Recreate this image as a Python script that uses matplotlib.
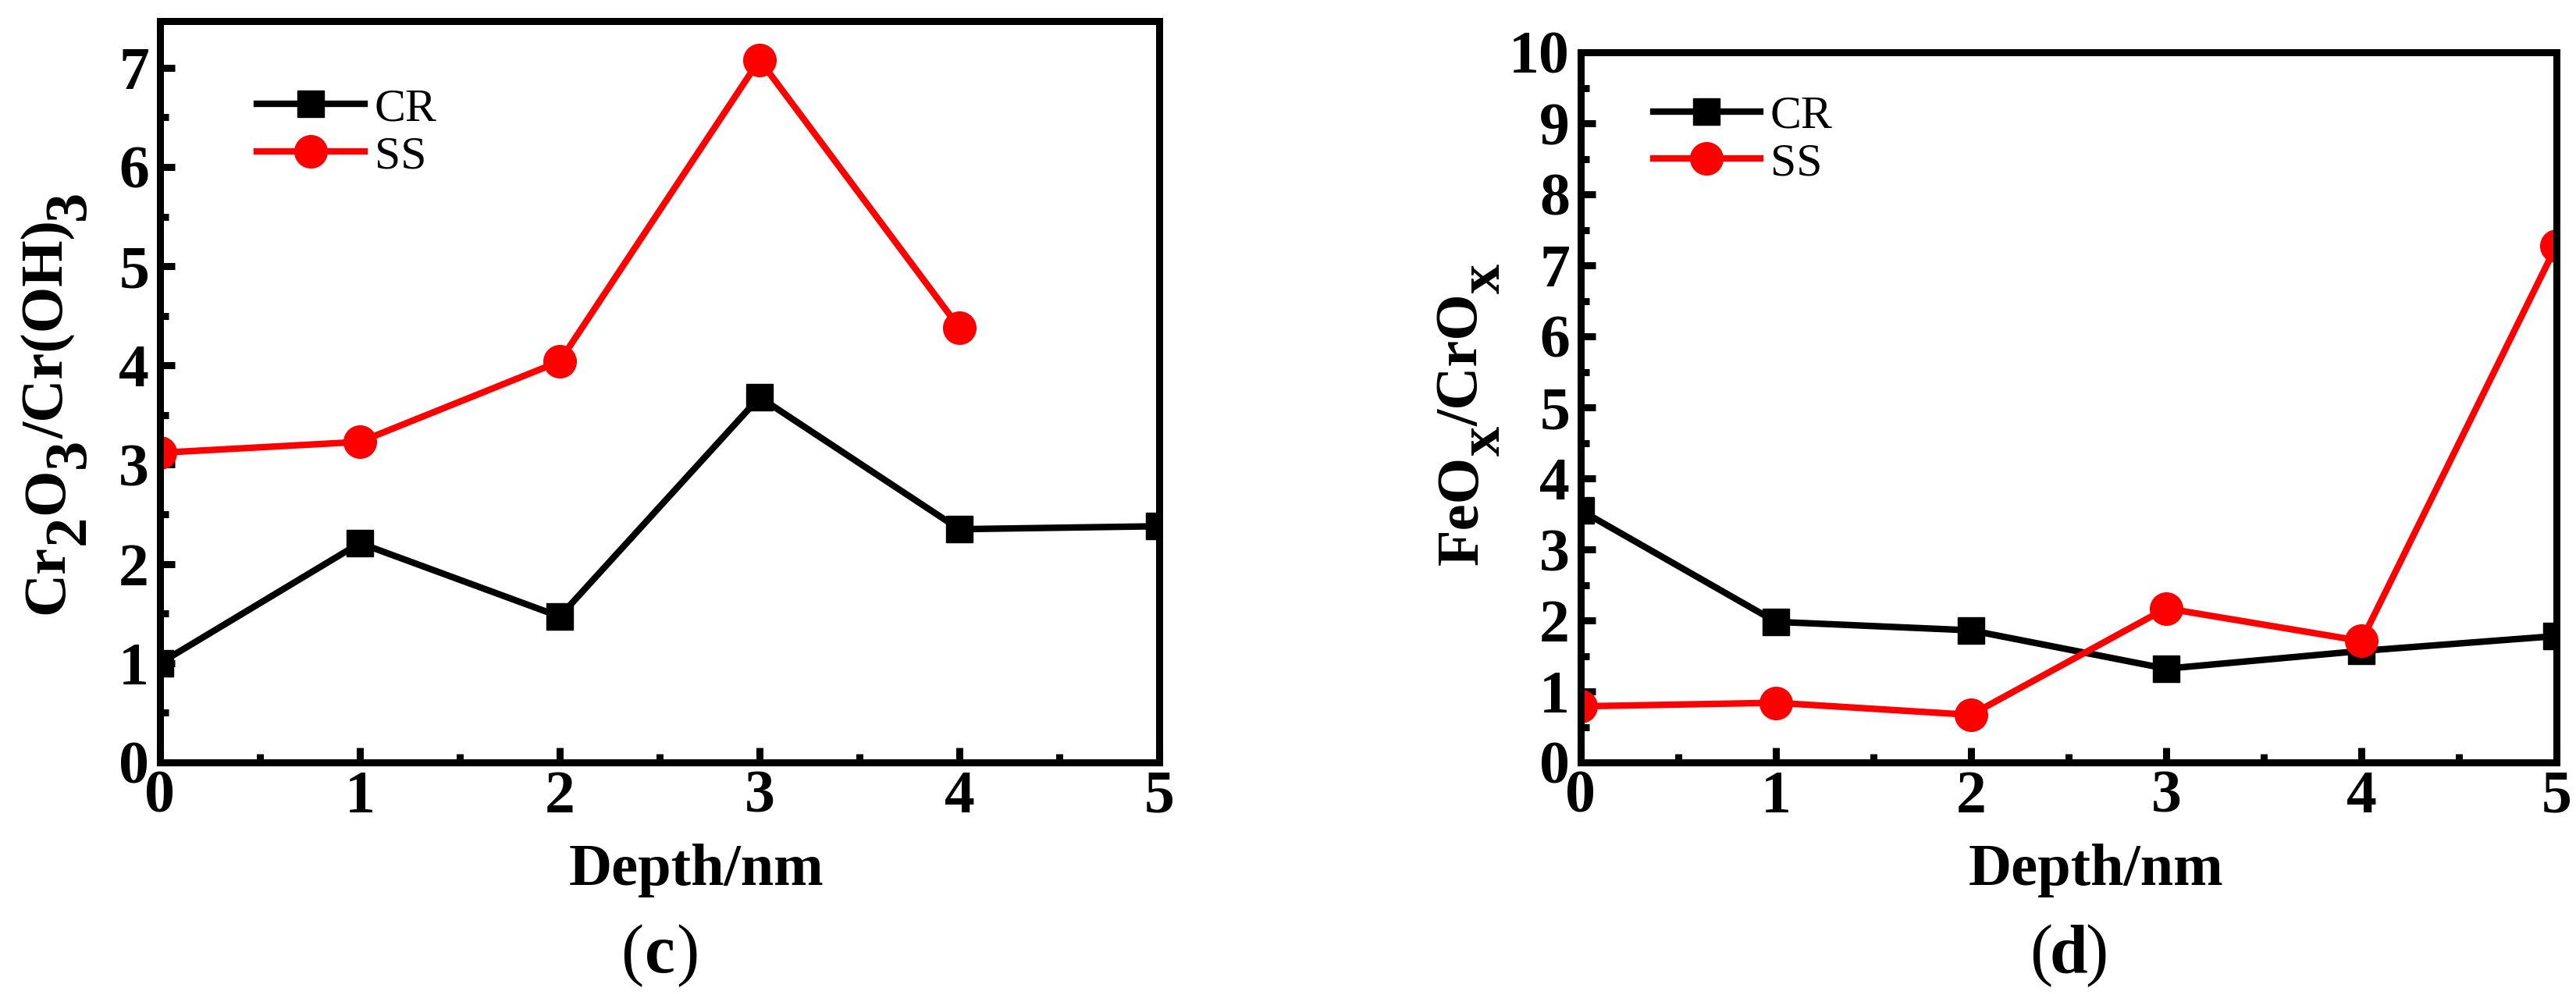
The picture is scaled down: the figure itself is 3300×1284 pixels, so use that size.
import matplotlib
matplotlib.use("Agg")
import matplotlib.pyplot as plt
from matplotlib.ticker import MultipleLocator

# data
depth = [0, 1, 2, 3, 4, 5]
cr_ratio_c = [1.00, 2.21, 1.47, 3.68, 2.35, 2.38]
ss_ratio_c = [3.12, 3.23, 4.04, 7.08, 4.38]
cr_ratio_d = [3.55, 1.98, 1.86, 1.32, 1.57, 1.78]
ss_ratio_d = [0.79, 0.84, 0.67, 2.17, 1.71, 7.28]

# y labels as (text, is_subscript) pieces; subscripts are full size but lowered
ylabel_c = [('Cr', False), ('2', True), ('O', False), ('3', True),
            ('/Cr(OH)', False), ('3', True)]
ylabel_d = [('FeO', False), ('x', True), ('/CrO', False), ('x', True)]

plt.rcParams['font.family'] = ['Liberation Serif', 'DejaVu Serif']

W, H = 3300, 1284
fig = plt.figure(figsize=(W / 100, H / 100), dpi=100)
renderer = fig.canvas.get_renderer()


def rotated_label(pieces, base_x, center_y, size=55, drop=28):
    # lay the pieces out bottom-to-top, in pixels, centred on center_y
    texts, lengths = [], []
    for s, sub in pieces:
        t = fig.text(0, 0, s, rotation=90, rotation_mode='anchor', ha='left',
                     va='baseline', fontsize=size, fontweight='bold')
        lengths.append(t.get_window_extent(renderer).height)
        texts.append((t, sub))
    y = center_y + sum(lengths) / 2
    for (t, sub), ln in zip(texts, lengths):
        x = base_x + (drop if sub else 0)
        t.set_position((x / W, 1 - y / H))
        y -= ln


def panel_tag(ax, letter, y):
    # "(c)": plain parentheses around a bold letter
    kw = dict(xycoords='axes fraction', textcoords='offset points',
              va='baseline', fontsize=63)
    ax.annotate(letter, (0.5, y), xytext=(0, 0), ha='center', fontweight='bold', **kw)
    ax.annotate('(', (0.5, y), xytext=(-15, 0), ha='right', **kw)
    ax.annotate(')', (0.5, y), xytext=(15, 0), ha='left', **kw)


def style_axes(ax, ymax, xlab_xy, leg_anchor):
    ax.set_xlim(0, 5)
    ax.set_ylim(0, ymax)
    ax.xaxis.set_major_locator(MultipleLocator(1))
    ax.xaxis.set_minor_locator(MultipleLocator(0.5))
    ax.yaxis.set_major_locator(MultipleLocator(1))
    ax.yaxis.set_minor_locator(MultipleLocator(0.5))
    ax.tick_params(which='both', direction='in', width=6.5, labelsize=56)
    ax.tick_params(axis='x', pad=7)
    ax.tick_params(axis='y', pad=10)
    ax.tick_params(which='major', length=14)
    ax.tick_params(which='minor', length=8)
    for lab in ax.get_xticklabels() + ax.get_yticklabels():
        lab.set_fontweight('bold')
    for sp in ax.spines.values():
        sp.set_linewidth(6.5)

    ax.set_xlabel('Depth/nm', fontsize=55, fontweight='bold')
    ax.xaxis.label.set_va('baseline')
    ax.xaxis.set_label_coords(*xlab_xy)

    ax.legend(loc='upper left', bbox_to_anchor=leg_anchor, frameon=False,
              fontsize=43, handlelength=2.3, handletextpad=0.22, labelspacing=0.1,
              borderpad=0, borderaxespad=0)


ax1 = fig.add_axes([205 / W, 1 - 977 / H, 1280 / W, 950 / H])
ax1.plot(depth, cr_ratio_c, color='black', lw=6, marker='s', ms=25, label='CR')
ax1.plot(depth[:5], ss_ratio_c, color='red', lw=6, marker='o', ms=30, label='SS')
style_axes(ax1, 7.47, (0.537, -0.165), (0.097, 0.91))
panel_tag(ax1, 'c', -0.283)
rotated_label(ylabel_c, 80, 515)

ax2 = fig.add_axes([2025 / W, 1 - 977 / H, 1250 / W, 910 / H])
ax2.plot(depth, cr_ratio_d, color='black', lw=6, marker='s', ms=25, label='CR')
ax2.plot(depth, ss_ratio_d, color='red', lw=6, marker='o', ms=30, label='SS')
style_axes(ax2, 10, (0.528, -0.1725), (0.074, 0.94))
panel_tag(ax2, 'd', -0.296)
rotated_label(ylabel_d, 1893, 531)

fig.savefig('out.png', dpi=100)
